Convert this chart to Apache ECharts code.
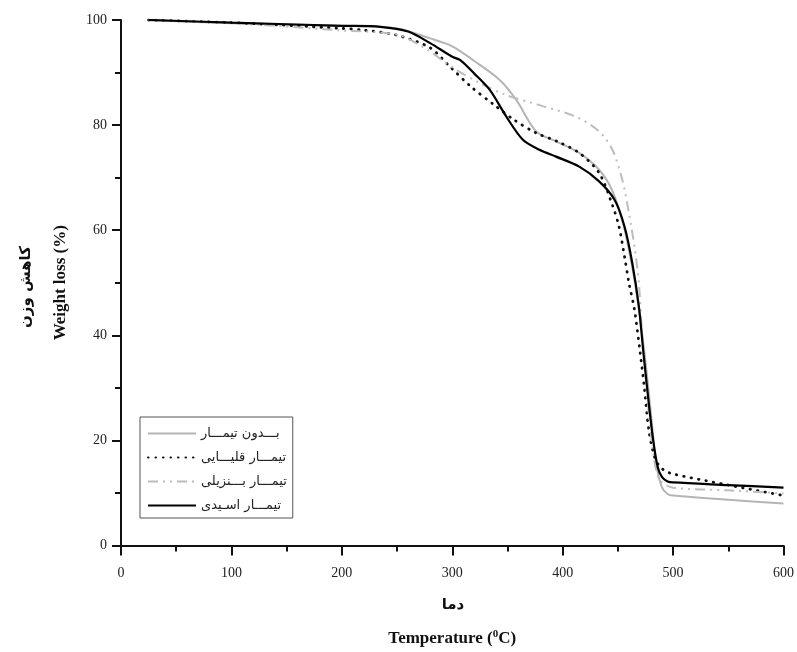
<!DOCTYPE html>
<html>
<head>
<meta charset="utf-8">
<script src="https://cdn.jsdelivr.net/npm/echarts@6/dist/echarts.min.js"></script>
<style>
  html, body { margin: 0; padding: 0; background: #fff; }
  #chart { width: 797px; height: 652px; }
</style>
</head>
<body>
<div id="chart"></div>
<script>
// series names (legend)
const names = ["بـــدون تیمـــار", "تیمـــار قلیـــایی", "تیمـــار بـــنزیلی", "تیمـــار اسـیدی"];

// no treatment (gray solid)
const plainT = [25, 100, 200, 250, 280, 300, 320, 343, 358, 376, 394, 415, 433, 445, 455, 463, 469, 475, 480, 485, 490, 495, 500, 550, 600];
const plainV = [100, 99.4, 98.9, 98.4, 96.5, 95, 92.2, 88.6, 84.8, 78.8, 76.9, 74.7, 71.5, 67.5, 61, 53, 45, 35, 25, 15, 11, 9.8, 9.5, 8.7, 8];

// alkaline (dotted)
const alkT = [25, 100, 200, 219, 250, 280, 298, 317, 337, 356, 376, 395, 415, 433, 445, 451, 456, 460, 465, 470, 474, 478, 483, 488, 493, 500, 550, 600];
const alkV = [100, 99.5, 98.4, 98.1, 97.1, 94.7, 91.1, 87.3, 84, 81, 78.5, 76.9, 74.7, 70.9, 64.8, 60.7, 55, 50, 44.9, 37, 30, 22, 17, 15, 14.2, 13.6, 11.5, 9.5];

// benzyl (dash-dot)
const benzT = [25, 100, 200, 250, 277, 299, 325, 349, 379, 412, 433, 445, 454, 460, 465, 469, 472, 476, 480, 485, 490, 500, 550, 600];
const benzV = [100, 99.4, 98, 97.2, 94.4, 91.1, 88, 85.7, 83.8, 81.6, 78.8, 75.3, 69.6, 63.3, 56.9, 50, 40, 30, 21, 14, 12, 11, 10.5, 9.9];

// acid (black solid)
const acidT = [25, 100, 200, 235, 260, 280, 300, 307, 320, 334, 349, 364, 379, 394, 415, 433, 447, 456, 463, 469, 473, 478, 482, 486, 490, 495, 500, 550, 600];
const acidV = [100, 99.5, 98.9, 98.7, 97.8, 95.6, 93, 92.4, 89.8, 86.7, 81.6, 77.2, 75.3, 74, 72.1, 69.3, 65.8, 60.7, 53.8, 45.5, 37, 27, 20, 15, 13, 12.2, 12, 11.5, 11];

const pairs = (xs, ys) => xs.map((x, i) => [x, ys[i]]);

const serif = "'Liberation Serif', 'DejaVu Serif', serif";

const chart = echarts.init(document.getElementById("chart"), null, { renderer: "canvas" });

chart.setOption({
  backgroundColor: "#fff",
  animation: false,
  grid: { left: 121, right: 12, top: 20, bottom: 106 },
  legend: {
    orient: "vertical",
    left: 140,
    top: 417,
    padding: [10, 6, 6, 7],
    itemGap: 11,
    itemWidth: 48,
    itemHeight: 12,
    borderColor: "#555",
    borderWidth: 1,
    backgroundColor: "#fff",
    itemStyle: { opacity: 0 },
    textStyle: { fontFamily: "'DejaVu Sans', sans-serif", fontSize: 13, color: "#222" },
    data: names
  },
  xAxis: {
    type: "value",
    min: 0,
    max: 600,
    interval: 100,
    name: "{t|Temperature (}{s|0}{t|C)}",
    nameLocation: "middle",
    nameGap: 83,
    nameTextStyle: {
      rich: {
        t: { fontFamily: serif, fontSize: 17, fontWeight: "bold", color: "#111", lineHeight: 20 },
        s: { fontFamily: serif, fontSize: 11, fontWeight: "bold", color: "#111", verticalAlign: "top", lineHeight: 20 }
      }
    },
    axisLine: { lineStyle: { color: "#111", width: 2 } },
    axisTick: { length: 10, lineStyle: { color: "#111", width: 2 } },
    minorTick: { show: true, splitNumber: 2, length: 6, lineStyle: { color: "#111", width: 2 } },
    axisLabel: { fontFamily: serif, fontSize: 14, color: "#222", margin: 21 },
    splitLine: { show: false }
  },
  yAxis: {
    type: "value",
    min: 0,
    max: 100,
    interval: 20,
    name: "Weight loss (%)",
    nameLocation: "middle",
    nameRotate: 90,
    nameGap: 52,
    nameTextStyle: { fontFamily: serif, fontSize: 17, fontWeight: "bold", color: "#111" },
    axisLine: { show: true, lineStyle: { color: "#111", width: 2 } },
    axisTick: { show: true, length: 9, lineStyle: { color: "#111", width: 2 } },
    minorTick: { show: true, splitNumber: 2, length: 6, lineStyle: { color: "#111", width: 2 } },
    axisLabel: { fontFamily: serif, fontSize: 14, color: "#222", margin: 14 },
    splitLine: { show: false }
  },
  graphic: [
    {
      type: "text",
      rotation: Math.PI / 2,
      x: 26, y: 287,
      style: { text: "کاهش وزن", font: "bold 15px 'DejaVu Sans', sans-serif", fill: "#111", align: "center", verticalAlign: "middle" }
    },
    {
      type: "text",
      x: 453, y: 605,
      style: { text: "دما", font: "bold 15px 'DejaVu Sans', sans-serif", fill: "#111", align: "center", verticalAlign: "middle" }
    }
  ],
  series: [
    {
      name: names[0], type: "line", data: pairs(plainT, plainV),
      smooth: 0.3, symbol: "none",
      lineStyle: { color: "#b5b5b5", width: 2 }, itemStyle: { color: "#b5b5b5" }
    },
    {
      name: names[1], type: "line", data: pairs(alkT, alkV),
      smooth: 0.3, symbol: "none",
      lineStyle: { color: "#111", width: 2.8, type: [0.5, 7], cap: "round" }, itemStyle: { color: "#111" }
    },
    {
      name: names[2], type: "line", data: pairs(benzT, benzV),
      smooth: 0.3, symbol: "none",
      lineStyle: { color: "#bdbdbd", width: 2, type: [10, 5, 2, 5, 2, 5] }, itemStyle: { color: "#bdbdbd" }
    },
    {
      name: names[3], type: "line", data: pairs(acidT, acidV),
      smooth: 0.3, symbol: "none",
      lineStyle: { color: "#000", width: 2.2 }, itemStyle: { color: "#000" }
    }
  ]
});
</script>
</body>
</html>
